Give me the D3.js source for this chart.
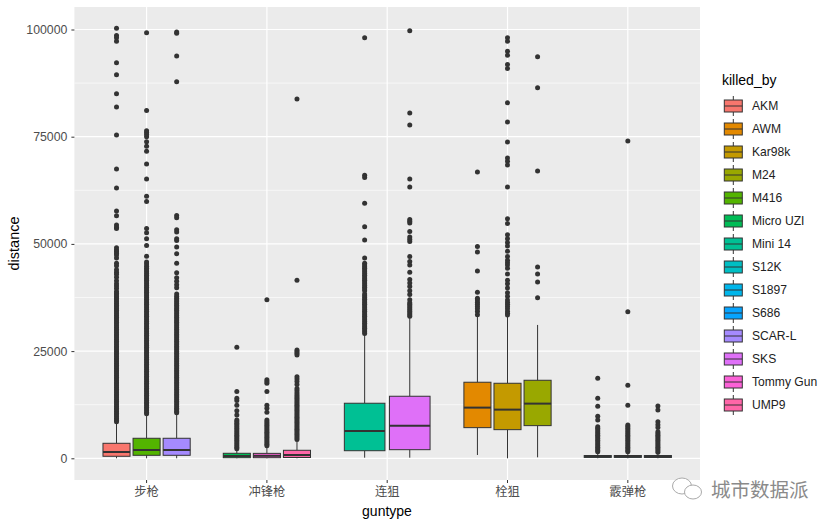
<!DOCTYPE html>
<html>
<head>
<meta charset="utf-8">
<script src="https://cdn.jsdelivr.net/npm/d3@7"></script>
<style>
    html, body { margin: 0; padding: 0; background: #fff; }
    text { font-family: "Liberation Sans", "Noto Sans CJK SC", sans-serif; }
</style>
</head>
<body>
<div id="chart"></div>
<script>
// Categories
const gunTypes = ["步枪", "冲锋枪", "连狙", "栓狙", "霰弹枪"];
const killers = ["AKM", "AWM", "Kar98k", "M24", "M416", "Micro UZI", "Mini 14", "S12K", "S1897", "S686", "SCAR-L", "SKS", "Tommy Gun", "UMP9"];
const killerColors = ["#F8766D", "#E38900", "#C49A00", "#99A800", "#53B400", "#00BC56", "#00C094", "#00BFC4", "#00B6EB", "#06A4FF", "#A58AFF", "#DF70F8", "#FB61D7", "#FF66A8"];
const yTicks = [0, 25000, 50000, 75000, 100000];
const yMinorTicks = [12500, 37500, 62500, 87500];

// Which weapons are drawn side by side in each gun type
const groupMembers = {
    "步枪": ["AKM", "M416", "SCAR-L"],
    "冲锋枪": ["Micro UZI", "Tommy Gun", "UMP9"],
    "连狙": ["Mini 14", "SKS"],
    "栓狙": ["AWM", "Kar98k", "M24"],
    "霰弹枪": ["S12K", "S1897", "S686"]
};

// Box values: killed_by, whisker low, q1, median, q3, whisker high
const boxStats = [
    ["AKM", 0, 470, 1470, 3500, 8200],
    ["M416", 0, 700, 1940, 4670, 10100],
    ["SCAR-L", 0, 700, 1940, 4670, 10340],
    ["Micro UZI", 0, 140, 540, 1170, 2000],
    ["Tommy Gun", 0, 140, 580, 1150, 2500],
    ["UMP9", 0, 190, 770, 1870, 3880],
    ["Mini 14", 140, 1770, 6370, 12840, 29000],
    ["SKS", 140, 2010, 7620, 14470, 32700],
    ["AWM", 770, 7150, 11820, 17740, 33060],
    ["Kar98k", 0, 6680, 11350, 17500, 33000],
    ["M24", 230, 7620, 12750, 18200, 31100],
    ["S12K", 0, 210, 440, 640, 1300],
    ["S1897", 0, 210, 450, 650, 1300],
    ["S686", 0, 200, 440, 640, 1250]
];

// Outliers
const akmOut = [100300, 98600, 98100, 97270, 92230, 89430, 85000, 81950, 75400, 67480, 63040, 57670, 56570, 54400, 53900, 53600, 49100, 48600, 48200, 47800, 47400, 46700, 45500, 44900, 44000, 43400, 42900, 42200, 41400, 40700, 40200, 39600, 38900, 38500, 38100, 37700, 37300, 36900, 36500, 36100, 35700, 35300, 34900, 34500, 34100, 33700, 33300, 32900, 32500, 32100, 31700, 31300, 30900, 30500, 30100, 29700, 29300, 28900, 28500, 28100, 27700, 27300, 26900, 26500, 26100, 25700, 25300, 24900, 24500, 24100, 23700, 23300, 22900, 22500, 22100, 21700, 21300, 20900, 20500, 20100, 19700, 19300, 18900, 18500, 18100, 17700, 17300, 16900, 16500, 16100, 15700, 15300, 14900, 14500, 14100, 13700, 13300, 12900, 12500, 12100, 11700, 11300, 10900, 10500, 10100, 9700, 9300, 8900, 8500];
const m416Out = [99230, 81100, 76400, 76000, 75500, 75000, 73800, 72750, 71600, 68650, 65150, 61100, 59900, 53600, 52600, 51200, 49600, 47100, 45800, 45300, 44800, 44300, 43900, 43500, 43100, 42700, 42300, 41900, 41500, 41100, 40700, 40300, 39900, 39500, 39100, 38700, 38300, 37900, 37500, 37100, 36700, 36300, 35900, 35500, 35100, 34700, 34300, 33900, 33500, 33100, 32700, 32300, 31900, 31500, 31100, 30700, 30300, 29900, 29500, 29100, 28700, 28300, 27900, 27500, 27100, 26700, 26300, 25900, 25500, 25100, 24700, 24300, 23900, 23500, 23100, 22700, 22300, 21900, 21500, 21100, 20700, 20300, 19900, 19500, 19100, 18700, 18300, 17900, 17500, 17100, 16700, 16300, 15900, 15500, 15100, 14700, 14300, 13900, 13500, 13100, 12700, 12300, 11900, 11500, 11100, 10700, 10400];
const scarOut = [99400, 99100, 93800, 87800, 56600, 56100, 53300, 52800, 51200, 50800, 49300, 47700, 45500, 43300, 42100, 41300, 40500, 39800, 38300, 37800, 37300, 36900, 36500, 36100, 35700, 35300, 34900, 34500, 34100, 33700, 33300, 32900, 32500, 32100, 31700, 31300, 30900, 30500, 30100, 29700, 29300, 28900, 28500, 28100, 27700, 27300, 26900, 26500, 26100, 25700, 25300, 24900, 24500, 24100, 23700, 23300, 22900, 22500, 22100, 21700, 21300, 20900, 20500, 20100, 19700, 19300, 18900, 18500, 18100, 17700, 17300, 16900, 16500, 16100, 15700, 15300, 14900, 14500, 14100, 13700, 13300, 12900, 12500, 12100, 11700, 11300, 10900, 10600];
const uziOut = [25900, 15550, 14000, 13500, 12370, 11100, 10100, 8940, 8600, 8200, 7800, 7400, 7000, 6600, 6200, 5800, 5400, 5000, 4600, 4200, 3800, 3400, 3000, 2600, 2200];
const tommyOut = [37000, 18300, 17900, 17500, 15550, 12370, 11670, 10740, 8940, 8500, 8100, 7700, 7300, 6900, 6500, 6100, 5700, 5300, 4900, 4500, 4100, 3700, 3300, 2900];
const ump9Out = [83800, 41500, 25280, 24900, 24500, 24100, 19000, 18500, 17900, 17200, 16300, 15800, 15300, 14800, 14400, 14000, 13600, 13200, 12800, 12400, 12000, 11600, 11200, 10800, 10400, 10000, 9600, 9200, 8800, 8400, 8000, 7600, 7200, 6800, 6400, 6000, 5600, 5200, 4800, 4400];
const mini14Out = [98070, 66000, 65500, 59500, 54000, 50900, 46700, 45500, 45100, 44700, 44300, 43900, 43500, 43100, 42700, 42300, 41900, 41500, 41100, 40700, 40300, 39900, 39500, 39100, 38300, 37900, 37500, 37100, 36700, 36300, 35900, 35500, 35100, 34700, 34300, 33900, 33500, 33100, 32700, 32300, 31900, 31500, 31100, 30700, 30300, 29900, 29500, 29100];
const sksOut = [99700, 80550, 77750, 65140, 63270, 55700, 55300, 54870, 52900, 51600, 51100, 50570, 47070, 45900, 45100, 43400, 41700, 40900, 40060, 39100, 38200, 37000, 36260, 35900, 35500, 35100, 34700, 34300, 33900, 33500, 33100];
const awmOut = [66770, 49400, 48100, 43660, 38750, 37350, 36900, 36400, 35900, 35400, 34900, 34220, 33460];
const kar98kOut = [98060, 97270, 94930, 94000, 91830, 90900, 82890, 78450, 73780, 70040, 69300, 68400, 63270, 55870, 54770, 52140, 51200, 50300, 49500, 48300, 47070, 46200, 45600, 45100, 44300, 43000, 41500, 40700, 39700, 38600, 37800, 36900, 36400, 35900, 35400, 34900, 34300, 33800, 33400];
const m24Out = [93620, 86400, 67000, 44600, 42960, 41100, 37430];
const s12kOut = [18680, 14000, 12140, 9800, 8950, 7380, 7000, 6600, 6200, 5800, 5400, 5000, 4600, 4200, 3800, 3400, 3000, 2600, 2200, 1800, 1500];
const s1897Out = [74000, 34200, 17040, 12370, 7770, 7400, 7000, 6600, 6200, 5800, 5400, 5000, 4600, 4200, 3800, 3400, 3000, 2600, 2200, 1800, 1500];
const s686Out = [12200, 11270, 8550, 7800, 7200, 6200, 5800, 5400, 5000, 4600, 4200, 3800, 3400, 3000, 2600, 2200, 1800, 1400];

const outliers = {
    "AKM": akmOut, "M416": m416Out, "SCAR-L": scarOut,
    "Micro UZI": uziOut, "Tommy Gun": tommyOut, "UMP9": ump9Out,
    "Mini 14": mini14Out, "SKS": sksOut,
    "AWM": awmOut, "Kar98k": kar98kOut, "M24": m24Out,
    "S12K": s12kOut, "S1897": s1897Out, "S686": s686Out
};

const width = 836, height = 526;
const panel = { left: 74.4, right: 700, top: 7, bottom: 480 };

const svg = d3.select("#chart").append("svg")
    .attr("width", width)
    .attr("height", height)
    .style("display", "block");

// Scales. Outer padding 0.1 of a step gives ggplot's 0.6 discrete expansion
const xScale = d3.scaleBand()
    .domain(gunTypes)
    .range([panel.left, panel.right])
    .paddingInner(0)
    .paddingOuter(0.1);

const yScale = d3.scaleLinear()
    .domain([0, 100000])
    .range([458.3, 29.5]);

const color = d3.scaleOrdinal().domain(killers).range(killerColors);

const centre = g => xScale(g) + xScale.bandwidth() / 2;

// Panel and grid
svg.append("rect")
    .attr("x", panel.left)
    .attr("y", panel.top)
    .attr("width", panel.right - panel.left)
    .attr("height", panel.bottom - panel.top)
    .attr("fill", "#EBEBEB");

yMinorTicks.forEach(t => {
    svg.append("line")
        .attr("x1", panel.left).attr("x2", panel.right)
        .attr("y1", yScale(t)).attr("y2", yScale(t))
        .attr("stroke", "#fff").attr("stroke-width", 0.6);
});
yTicks.forEach(t => {
    svg.append("line")
        .attr("x1", panel.left).attr("x2", panel.right)
        .attr("y1", yScale(t)).attr("y2", yScale(t))
        .attr("stroke", "#fff").attr("stroke-width", 1.2);
});
gunTypes.forEach(g => {
    svg.append("line")
        .attr("x1", centre(g)).attr("x2", centre(g))
        .attr("y1", panel.top).attr("y2", panel.bottom)
        .attr("stroke", "#fff").attr("stroke-width", 1.2);
});

// Boxes, dodged inside 0.75 of a band
const dodgeWidth = xScale.bandwidth() * 0.75;
const statsByKiller = new Map(boxStats.map(d => [d[0], d]));

gunTypes.forEach(g => {
    const members = groupMembers[g];
    const inner = d3.scaleBand()
        .domain(members)
        .range([centre(g) - dodgeWidth / 2, centre(g) + dodgeWidth / 2]);
    const boxWidth = inner.bandwidth() * 0.9;

    members.forEach(k => {
        const [, low, q1, median, q3, high] = statsByKiller.get(k);
        const x = inner(k) + inner.bandwidth() / 2;

        svg.selectAll(null)
            .data(outliers[k])
            .enter()
            .append("circle")
            .attr("cx", x)
            .attr("cy", d => yScale(d))
            .attr("r", 2.5)
            .attr("fill", "#333");

        // Whiskers
        [[low, q1], [q3, high]].forEach(w => {
            svg.append("line")
                .attr("x1", x).attr("x2", x)
                .attr("y1", yScale(w[0])).attr("y2", yScale(w[1]))
                .attr("stroke", "#333").attr("stroke-width", 1);
        });

        svg.append("rect")
            .attr("x", x - boxWidth / 2)
            .attr("y", yScale(q3))
            .attr("width", boxWidth)
            .attr("height", yScale(q1) - yScale(q3))
            .attr("fill", color(k))
            .attr("stroke", "#333")
            .attr("stroke-width", 1);

        svg.append("line")
            .attr("x1", x - boxWidth / 2).attr("x2", x + boxWidth / 2)
            .attr("y1", yScale(median)).attr("y2", yScale(median))
            .attr("stroke", "#333").attr("stroke-width", 2);
    });
});

// Axes
const xAxis = svg.append("g")
    .attr("transform", "translate(0," + panel.bottom + ")")
    .call(d3.axisBottom(xScale).tickSize(3).tickPadding(4));
const yAxis = svg.append("g")
    .attr("transform", "translate(" + panel.left + ",0)")
    .call(d3.axisLeft(yScale).tickValues(yTicks).tickFormat(d3.format("d")).tickSize(3).tickPadding(4));

[xAxis, yAxis].forEach(a => {
    a.select(".domain").remove();
    a.selectAll(".tick line").attr("stroke", "#333");
    a.selectAll(".tick text")
        .attr("fill", "#4D4D4D")
        .style("font-size", "12.3px")
        .style("font-family", '"Liberation Sans", "Noto Sans CJK SC", sans-serif');
});

// Axis titles
svg.append("text")
    .attr("x", 387)
    .attr("y", 516)
    .attr("text-anchor", "middle")
    .style("font-size", "14px")
    .text("guntype");

svg.append("text")
    .attr("transform", "translate(19,243.5) rotate(-90)")
    .attr("text-anchor", "middle")
    .style("font-size", "14.5px")
    .text("distance");

// Legend
const legendY = d3.scalePoint().domain(killers).range([106, 405]);

svg.append("text")
    .attr("x", 722)
    .attr("y", 85)
    .style("font-size", "14px")
    .text("killed_by");

killers.forEach(k => {
    const y = legendY(k);
    svg.append("line")
        .attr("x1", 733.3).attr("x2", 733.3)
        .attr("y1", y - 10).attr("y2", y + 10)
        .attr("stroke", "#333").attr("stroke-width", 1);
    svg.append("rect")
        .attr("x", 724.3).attr("y", y - 6)
        .attr("width", 18).attr("height", 12)
        .attr("fill", color(k))
        .attr("stroke", "#333").attr("stroke-width", 1);
    svg.append("line")
        .attr("x1", 724.3).attr("x2", 742.3)
        .attr("y1", y).attr("y2", y)
        .attr("stroke", "#333").attr("stroke-width", 1);
    svg.append("text")
        .attr("x", 752)
        .attr("y", y + 4.2)
        .attr("fill", "#222")
        .style("font-size", "12.1px")
        .text(k);
});

// Watermark
const mark = svg.append("g")
    .attr("fill", "none")
    .attr("stroke", "#aaa")
    .attr("stroke-width", 1);
mark.append("ellipse").attr("cx", 682).attr("cy", 486).attr("rx", 9.5).attr("ry", 8).attr("fill", "#fff");
mark.append("ellipse").attr("cx", 693).attr("cy", 492).attr("rx", 8.5).attr("ry", 7).attr("fill", "#fff");

svg.append("text")
    .attr("x", 711)
    .attr("y", 497)
    .attr("fill", "#8a8a8a")
    .style("font-size", "19.5px")
    .style("font-family", '"Noto Sans CJK SC", sans-serif')
    .text("城市数据派");
</script>
</body>
</html>
